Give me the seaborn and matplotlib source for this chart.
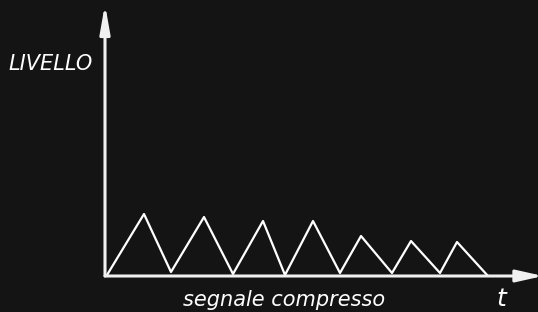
import numpy as np
import pandas as pd
import matplotlib
matplotlib.use("Agg")
import matplotlib.pyplot as plt
import seaborn as sns

# vertici del segnale compresso (tempo, livello)
tempo = [0.2, 3.9, 6.6, 9.9, 12.8, 15.8, 18.0, 20.8, 23.5, 25.6, 28.7, 30.6, 33.5, 35.2, 38.3]
livello = [0.1, 6.2, 0.4, 5.9, 0.2, 5.5, 0.1, 5.5, 0.3, 4.0, 0.3, 3.5, 0.3, 3.4, 0.0]

asse_label_y = "LIVELLO"
asse_label_x = "segnale compresso"
asse_t = "t"

bg = "#141414"

sns.set_theme(style="dark", rc={
    "figure.facecolor": bg,
    "axes.facecolor": bg,
})
plt.rcParams["font.family"] = ["DejaVu Sans"]

fig = plt.figure(figsize=(5.38, 3.12), dpi=100)
ax = fig.add_axes([105 / 538, 36 / 312, 432 / 538, 266 / 312])

df = pd.DataFrame({"tempo": tempo, "livello": livello})
sns.lineplot(data=df, x="tempo", y="livello", ax=ax,
             color="white", linewidth=1.6, sort=False)

ax.set_xlim(0, 43.2)
ax.set_ylim(0, 26.6)
for s in ax.spines.values():
    s.set_visible(False)
ax.set_xticks([])
ax.set_yticks([])
ax.set_xlabel("")
ax.set_ylabel("")
ax.grid(False)

# assi con freccia
ax.annotate("", xy=(1.014, 0), xytext=(0, 0), xycoords="axes fraction",
            arrowprops=dict(arrowstyle="-|>,head_length=1.6,head_width=0.36",
                            mutation_scale=10, color="#f0f0f0", lw=2.2,
                            shrinkA=0, shrinkB=0),
            annotation_clip=False)
ax.annotate("", xy=(0, 1.022), xytext=(0, 0), xycoords="axes fraction",
            arrowprops=dict(arrowstyle="-|>,head_length=1.7,head_width=0.3",
                            mutation_scale=10, color="#f0f0f0", lw=2.2,
                            shrinkA=0, shrinkB=0),
            annotation_clip=False)

fig.text(51 / 538, 1 - 64 / 312, asse_label_y, color="white", style="italic",
         fontsize=15, ha="center", va="center")
fig.text(284 / 538, 1 - 306 / 312, asse_label_x, color="white", style="italic",
         fontsize=15, ha="center", va="baseline")
fig.text(501 / 538, 1 - 306 / 312, asse_t, color="white", style="italic",
         fontsize=18, ha="center", va="baseline")

fig.savefig("out.png", dpi=100, facecolor=bg)
